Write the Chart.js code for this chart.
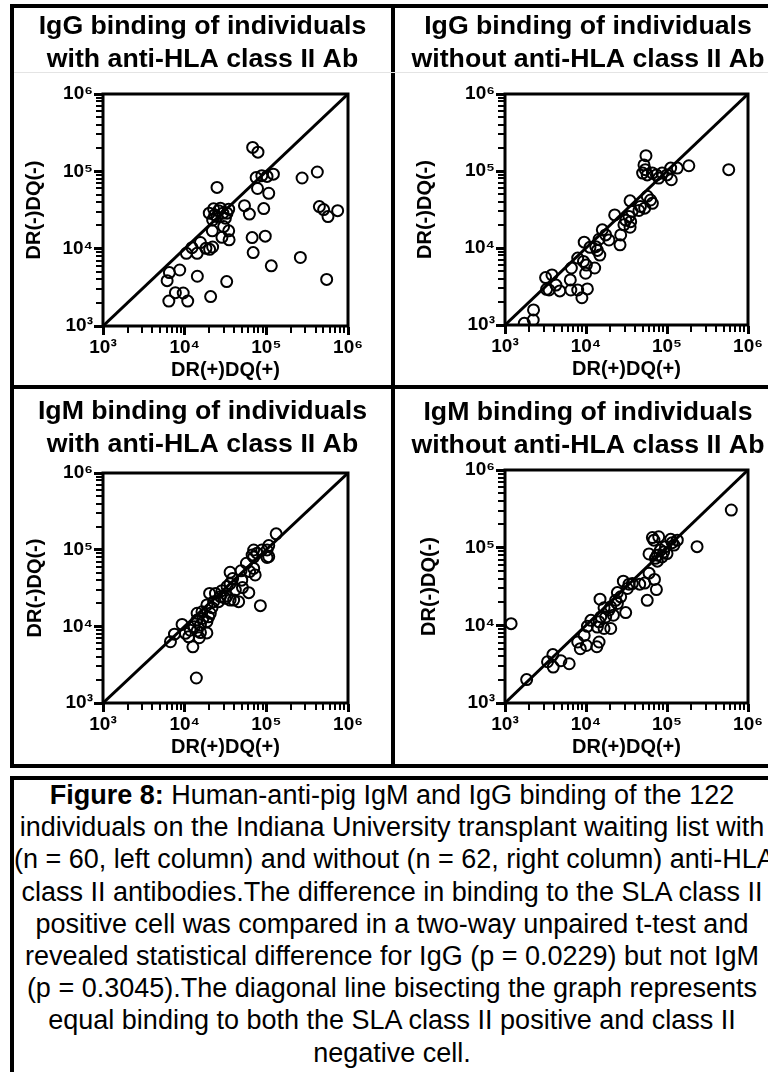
<!DOCTYPE html>
<html>
<head>
<meta charset="utf-8">
<script src="https://cdn.jsdelivr.net/npm/chart.js@4.4.0/dist/chart.umd.min.js"></script>
<style>
  html, body { margin: 0; padding: 0; background: #fff; }
  body { width: 768px; height: 1072px; overflow: hidden; position: relative; }
  .line { position: absolute; background: #000; }
  .tick { position: absolute; background: #000; }
  canvas { position: absolute; }
  #caption {
    position: absolute; left: 14px; top: 779px; width: 756px;
    font-family: "Liberation Sans", Arial, sans-serif; font-size: 27px;
    line-height: 32.2px; text-align: center; white-space: nowrap; color: #000;
  }
</style>
</head>
<body>
<div class="line" style="left:10px;top:4px;width:770px;height:4px"></div>
<div class="line" style="left:10px;top:4px;width:4px;height:764px"></div>
<div class="line" style="left:391px;top:4px;width:4px;height:764px"></div>
<div class="line" style="left:10px;top:385px;width:770px;height:4px"></div>
<div class="line" style="left:10px;top:764px;width:770px;height:4px"></div>
<div class="line" style="left:14px;top:72px;width:754px;height:1px;background:#e4e4e4"></div>
<div class="line" style="left:10px;top:776px;width:770px;height:4px"></div>
<div class="line" style="left:10px;top:776px;width:4px;height:300px"></div>

<canvas id="c1" width="377" height="377" style="left:14px;top:8px"></canvas>
<canvas id="c2" width="386" height="377" style="left:395px;top:8px"></canvas>
<canvas id="c3" width="377" height="375" style="left:14px;top:389px"></canvas>
<canvas id="c4" width="386" height="375" style="left:395px;top:389px"></canvas>

<div id="caption">
  <div><b>Figure 8:</b> Human-anti-pig IgM and IgG binding of the 122</div>
  <div>individuals on the Indiana University transplant waiting list with</div>
  <div>(n = 60, left column) and without (n = 62, right column) anti-HLA</div>
  <div>class II antibodies.The difference in binding to the SLA class II</div>
  <div>positive cell was compared in a two-way unpaired t-test and</div>
  <div>revealed statistical difference for IgG (p = 0.0229) but not IgM</div>
  <div>(p = 0.3045).The diagonal line bisecting the graph represents</div>
  <div>equal binding to both the SLA class II positive and class II</div>
  <div>negative cell.</div>
</div>

<script>
// axis decades and their labels
const decades = [1e3, 1e4, 1e5, 1e6];
const tickLabels = ['10³', '10⁴', '10⁵', '10⁶'];
const diagonal = [1e3, 1e6];

// IgG, with anti-HLA class II Ab
const iggWithX = [68000, 79000, 274000, 421000, 75000, 88000, 102000, 122000, 78000, 107000, 24900, 54000, 62000, 93000, 446000, 503000, 569000, 747000, 67000, 97000, 69000, 261000, 115000, 548000, 32700, 20800, 14300, 8700, 6500, 6100, 7700, 9600, 6400, 10900, 10500, 14200, 12300, 15600, 18200, 20200, 22000, 21800, 28600, 35000, 34600, 30000, 22600, 26000, 29400, 34600, 22000, 24900, 31500, 23300, 27400, 33000, 20000];
const iggWithY = [204000, 177000, 82000, 98000, 83000, 88000, 86000, 92000, 60000, 52000, 62000, 36000, 28000, 33000, 35000, 32000, 26000, 31000, 13900, 14500, 8900, 7700, 6000, 4000, 3750, 2400, 4400, 5300, 4900, 3860, 2700, 2670, 2100, 2100, 8700, 8700, 10300, 12000, 10100, 9800, 10500, 17000, 14000, 13000, 17000, 19300, 32700, 31000, 28800, 32400, 23500, 26000, 24800, 27400, 33400, 28800, 28800];

// IgG, without anti-HLA class II Ab
const iggWithoutX = [578000, 55000, 52000, 54000, 50000, 57000, 66000, 74000, 87000, 111000, 134000, 186000, 113000, 100000, 35000, 57000, 66000, 47000, 53000, 45000, 37000, 34000, 31000, 35600, 35000, 22600, 29400, 26800, 26300, 15900, 17500, 19200, 14500, 13200, 9500, 11200, 13800, 14800, 7900, 9300, 10100, 12800, 6600, 9900, 6400, 6500, 7900, 10400, 8900, 4750, 4250, 3170, 3800, 3260, 3500, 2250, 2230, 1730, 62700, 79000];
const iggWithoutY = [104000, 158000, 120000, 104000, 94000, 89000, 94000, 89000, 94000, 109000, 109000, 117000, 77000, 89000, 41000, 47000, 38000, 34600, 32900, 30700, 29800, 25700, 23000, 22000, 18600, 26900, 20000, 14800, 11000, 17200, 14800, 12700, 13000, 10400, 11900, 10200, 9300, 8100, 7400, 6700, 6000, 5500, 5500, 4700, 3850, 2850, 2850, 2940, 2260, 2770, 3300, 4130, 4470, 2910, 2850, 1570, 1160, 1050, 42000, 81000];

// IgM, with anti-HLA class II Ab
const igmWithX = [132000, 107000, 102000, 88000, 70000, 77000, 67000, 107000, 102000, 70000, 57000, 62500, 73000, 49000, 36000, 38700, 50000, 51000, 61000, 84500, 36000, 41700, 33000, 28600, 39800, 33000, 36000, 27400, 23800, 20200, 26000, 22600, 18700, 20600, 16300, 14200, 16700, 14200, 18700, 15600, 13100, 11700, 9300, 7500, 6700, 10200, 14200, 18700, 15100, 12600, 13900, 19700, 21600, 45800, 31500, 15600, 11200, 70000];
const igmWithY = [161000, 113000, 99000, 99000, 99000, 90000, 85000, 81000, 79000, 80000, 66500, 51800, 46800, 53000, 50700, 42000, 40000, 32000, 27500, 18600, 36000, 29800, 33000, 29200, 22000, 24900, 22000, 24400, 26900, 26900, 21000, 21000, 19000, 14800, 15500, 14800, 12700, 12100, 11500, 10400, 9900, 8900, 10600, 7900, 6300, 8100, 8700, 8200, 7100, 5400, 2120, 13300, 17500, 21000, 23200, 8300, 7300, 57000];

// IgM, without anti-HLA class II Ab
const igmWithoutX = [622000, 235000, 66000, 79000, 69000, 111000, 134000, 122000, 96000, 83000, 100000, 76000, 60000, 87000, 76000, 60000, 70000, 74000, 57000, 53000, 46000, 28900, 34000, 32400, 24400, 26800, 23200, 14900, 20200, 16700, 30900, 21800, 17500, 14500, 13800, 16700, 20200, 10400, 9500, 7900, 10100, 14500, 13600, 8500, 6200, 4900, 3900, 3350, 3940, 1850, 1190, 11500, 19200, 24400, 37300, 116000, 91000, 72000, 15200];
const igmWithoutY = [305000, 103000, 135000, 138000, 125000, 128000, 125000, 108000, 103000, 93000, 84000, 80000, 83000, 76000, 67000, 47000, 39000, 28900, 21000, 35000, 33900, 37000, 33900, 29800, 26400, 23300, 21000, 21700, 17300, 16800, 14600, 13500, 12800, 11100, 9500, 9100, 9100, 9700, 7400, 6100, 5500, 6100, 5300, 5000, 3200, 3500, 4200, 3400, 2900, 2000, 10500, 11600, 15700, 19100, 34500, 116000, 88000, 73000, 12800];

const FONT = 'Liberation Sans, Arial, Helvetica, sans-serif';

// log ticks: every 1..9 x 10^k, labelled only at the decades
const tickValues = [];
decades.slice(0, -1).forEach(d => { for (let m = 1; m < 10; m++) tickValues.push(d * m); });
tickValues.push(decades[decades.length - 1]);

// frame around the plot area
const boxPlugin = {
  id: 'box',
  afterDraw(chart) {
    const a = chart.chartArea, ctx = chart.ctx;
    ctx.save();
    ctx.strokeStyle = '#000';
    ctx.lineWidth = 3;
    ctx.strokeRect(a.left, a.top, a.right - a.left, a.bottom - a.top);
    ctx.restore();
  }
};

// outward tick marks, placed from the chart's own x and y scales
function addTicks(chart) {
  const cv = chart.canvas, a = chart.chartArea;
  const ox = cv.offsetLeft, oy = cv.offsetTop;
  tickValues.forEach(v => {
    const major = decades.includes(v);
    const len = major ? 8 : 6;
    const w = major ? 3 : 2;
    const px = chart.scales.x.getPixelForValue(v);
    const py = chart.scales.y.getPixelForValue(v);
    const tx = document.createElement('div');
    tx.className = 'tick';
    tx.style.cssText = 'left:' + Math.round(ox + px - w / 2) + 'px;top:' + Math.round(oy + a.bottom + 1) +
      'px;width:' + w + 'px;height:' + len + 'px';
    document.body.appendChild(tx);
    const ty = document.createElement('div');
    ty.className = 'tick';
    ty.style.cssText = 'left:' + Math.round(ox + a.left - 1 - len) + 'px;top:' + Math.round(oy + py - w / 2) +
      'px;width:' + len + 'px;height:' + w + 'px';
    document.body.appendChild(ty);
  });
}

function logAxis(titleText, titlePad) {
  return {
    type: 'logarithmic',
    min: decades[0],
    max: decades[decades.length - 1],
    afterBuildTicks: s => { s.ticks = tickValues.map(v => ({ value: v, major: decades.includes(v) })); },
    ticks: {
      autoSkip: false, maxRotation: 0, color: '#000', padding: 2,
      font: { family: FONT, size: 19, weight: 'bold' },
      callback: v => { const i = decades.indexOf(v); return i >= 0 ? tickLabels[i] : ''; }
    },
    grid: { drawOnChartArea: false, color: 'rgba(0,0,0,0)', tickLength: 8 },
    border: { display: false },
    title: {
      display: true, text: titleText, color: '#000',
      font: { family: FONT, size: 20, weight: 'bold', lineHeight: '24px' },
      padding: titlePad
    }
  };
}

function makeChart(id, titleLines, xs, ys, lay) {
  const xAxis = logAxis('DR(+)DQ(+)', { top: 0, bottom: lay.xtp });
  xAxis.position = 'bottom';
  xAxis.afterFit = s => { s.height = lay.xh; };
  const yAxis = logAxis('DR(-)DQ(-)', { top: lay.ytp, bottom: 0 });
  yAxis.position = 'left';
  yAxis.afterFit = s => { s.width = lay.yw; };

  const chart = new Chart(document.getElementById(id), {
    type: 'scatter',
    data: {
      datasets: [
        {
          data: xs.map((x, i) => ({ x: x, y: ys[i] })),
          pointRadius: 5.5, borderWidth: 2,
          borderColor: '#000', backgroundColor: 'rgba(0,0,0,0)'
        },
        {
          data: diagonal.map(v => ({ x: v, y: v })),
          showLine: true, pointRadius: 0, borderWidth: 3, borderColor: '#000'
        }
      ]
    },
    options: {
      responsive: false, animation: false, devicePixelRatio: 1,
      layout: { padding: 0 },
      scales: {
        x: xAxis,
        y: yAxis,
        y2: {
          type: 'linear', position: 'right', display: true,
          afterFit: s => { s.width = lay.right; },
          ticks: { display: false }, grid: { display: false }, border: { display: false }
        }
      },
      plugins: {
        legend: { display: false },
        tooltip: { enabled: false },
        title: {
          display: true, text: titleLines, color: '#000',
          font: { family: FONT, size: 26.7, weight: 'bold', lineHeight: '33px' },
          padding: { top: lay.tt, bottom: lay.tb }
        }
      }
    },
    plugins: [boxPlugin]
  });
  addTicks(chart);
}

makeChart('c1', ['IgG binding of individuals', 'with anti-HLA class II Ab'], iggWithX, iggWithY,
  { yw: 89, right: 43, xh: 59, tt: 2, tb: 18, ytp: 8, xtp: 3 });
makeChart('c2', ['IgG binding of individuals', 'without anti-HLA class II Ab'], iggWithoutX, iggWithoutY,
  { yw: 110, right: 33, xh: 60, tt: 2, tb: 18, ytp: 18, xtp: 4 });
makeChart('c3', ['IgM binding of individuals', 'with anti-HLA class II Ab'], igmWithX, igmWithY,
  { yw: 89, right: 43, xh: 61, tt: 6, tb: 12, ytp: 9, xtp: 5 });
makeChart('c4', ['IgM binding of individuals', 'without anti-HLA class II Ab'], igmWithoutX, igmWithoutY,
  { yw: 110, right: 33, xh: 61, tt: 7, tb: 8, ytp: 22, xtp: 5 });
</script>
</body>
</html>
